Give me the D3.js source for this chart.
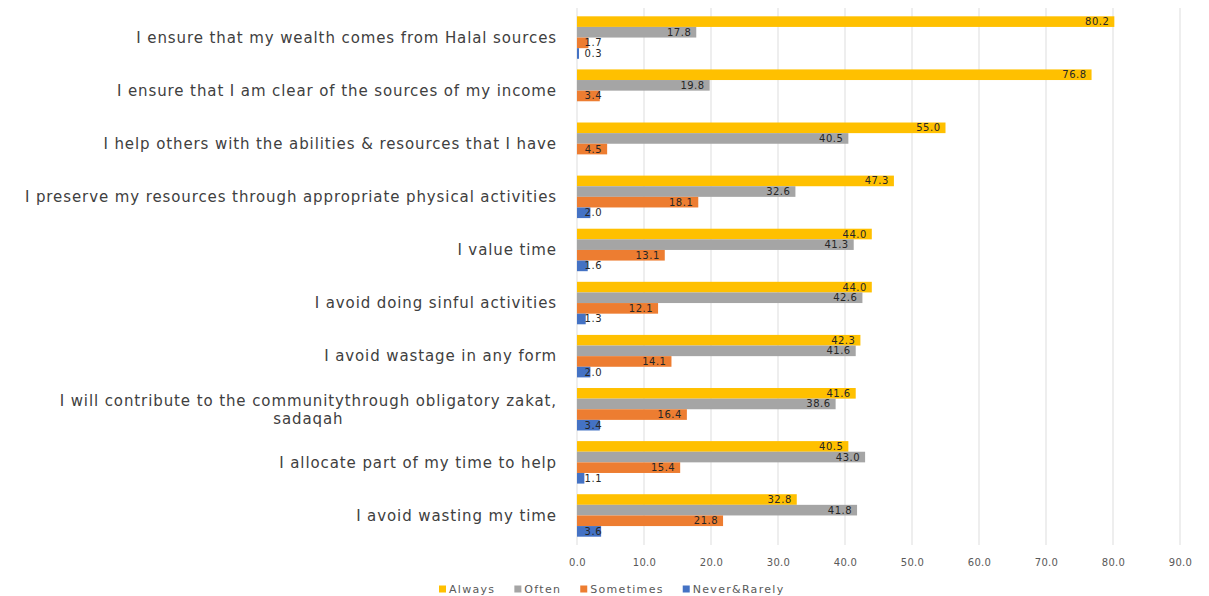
<!DOCTYPE html>
<html>
<head>
<meta charset="utf-8">
<script src="https://cdn.jsdelivr.net/npm/d3@7"></script>
<style>
  html, body { margin: 0; padding: 0; background: #ffffff; }
  svg { display: block; }
</style>
</head>
<body>
<svg id="chart" width="1209" height="596"></svg>
<script>
// Survey statements (top to bottom)
const categories = [
  "I ensure that my wealth comes from Halal sources",
  "I ensure that I am clear of the sources of my income",
  "I help others with the abilities & resources that I have",
  "I preserve my resources through appropriate physical activities",
  "I value time",
  "I avoid doing sinful activities",
  "I avoid wastage in any form",
  "I will contribute to the communitythrough obligatory zakat,|sadaqah",
  "I allocate part of my time to help",
  "I avoid wasting my time"
];

const seriesNames = ["Always", "Often", "Sometimes", "Never&Rarely"];

// Percentages per statement
const always    = [80.2, 76.8, 55.0, 47.3, 44.0, 44.0, 42.3, 41.6, 40.5, 32.8];
const often     = [17.8, 19.8, 40.5, 32.6, 41.3, 42.6, 41.6, 38.6, 43.0, 41.8];
const sometimes = [1.7, 3.4, 4.5, 18.1, 13.1, 12.1, 14.1, 16.4, 15.4, 21.8];
const never     = [0.3, 0.0, 0.0, 2.0, 1.6, 1.3, 2.0, 3.4, 1.1, 3.6];

const xTicks = [0, 10, 20, 30, 40, 50, 60, 70, 80, 90];

const seriesValues = [always, often, sometimes, never];
const colors = ["#FFC000", "#A5A5A5", "#ED7D31", "#4472C4"];

const svg = d3.select("#chart");
const fontFamily = "'DejaVu Sans', sans-serif";

const x = d3.scaleLinear().domain([0, 90]).range([577, 1180]);
const y = d3.scaleBand().domain(d3.range(categories.length)).range([11, 542])
  .paddingInner(0.2).paddingOuter(0.1);
const ySub = d3.scaleBand().domain(d3.range(seriesNames.length)).range([0, y.bandwidth()]);

// vertical gridlines
svg.append("g")
  .selectAll("line")
  .data(xTicks)
  .join("line")
  .attr("x1", d => x(d)).attr("x2", d => x(d))
  .attr("y1", 8).attr("y2", 545)
  .attr("stroke", "#DDDDDD")
  .attr("stroke-width", 1);

// x axis labels
const axis = svg.append("g")
  .attr("transform", "translate(0,556)")
  .call(d3.axisBottom(x).tickValues(xTicks).tickFormat(d3.format(".1f")).tickSize(0));
axis.select(".domain").remove();
axis.selectAll("text")
  .attr("font-family", fontFamily)
  .attr("font-size", 10)
  .attr("letter-spacing", 0.3)
  .attr("fill", "#595959");

// bars
const rows = categories.map((c, i) => ({
  i,
  vals: seriesValues.map((arr, s) => ({ s, v: arr[i] }))
}));

const groups = svg.append("g")
  .selectAll("g")
  .data(rows)
  .join("g")
  .attr("transform", d => `translate(0,${y(d.i)})`);

groups.selectAll("rect")
  .data(d => d.vals)
  .join("rect")
  .attr("x", x(0))
  .attr("y", d => ySub(d.s))
  .attr("width", d => x(d.v) - x(0))
  .attr("height", ySub.bandwidth())
  .attr("fill", d => colors[d.s]);

// value labels at the inner end of each bar
groups.selectAll("text")
  .data(d => d.vals.filter(e => e.v > 0))
  .join("text")
  .attr("x", d => Math.max(x(d.v) - 5, x(0) + 25))
  .attr("y", d => ySub(d.s) + ySub.bandwidth() / 2)
  .attr("dy", "0.35em")
  .attr("text-anchor", "end")
  .attr("font-family", fontFamily)
  .attr("font-size", 10)
  .attr("letter-spacing", 0.5)
  .attr("fill", "#262626")
  .text(d => d3.format(".1f")(d.v));

// category labels
const labelRight = 557;
const catG = svg.append("g");
categories.forEach((c, i) => {
  const lines = c.split("|");
  const cy = y(i) + y.bandwidth() / 2;
  const t = catG.append("text")
    .attr("font-family", fontFamily)
    .attr("font-size", 15)
    .attr("letter-spacing", 0.9)
    .attr("fill", "#404040");
  if (lines.length === 1) {
    t.attr("x", labelRight).attr("y", cy).attr("dy", "0.35em")
      .attr("text-anchor", "end").text(c);
  } else {
    t.attr("text-anchor", "middle");
    const spans = lines.map((ln, k) => t.append("tspan")
      .attr("y", cy + (k - (lines.length - 1) / 2) * 18)
      .attr("dy", "0.35em")
      .text(ln));
    const w = d3.max(spans, s => s.node().getComputedTextLength());
    spans.forEach(s => s.attr("x", labelRight - w / 2));
  }
});

// legend
const legend = svg.append("g").attr("transform", "translate(0,589)");
let lx = 439;
seriesNames.forEach((name, s) => {
  const g = legend.append("g").attr("transform", `translate(${lx},0)`);
  g.append("rect").attr("x", 0).attr("y", -3.5).attr("width", 7).attr("height", 7)
    .attr("fill", colors[s]);
  const t = g.append("text").attr("x", 10).attr("y", 0).attr("dy", "0.35em")
    .attr("font-family", fontFamily).attr("font-size", 11).attr("letter-spacing", 1.3)
    .attr("fill", "#595959")
    .text(name);
  lx += 10 + t.node().getComputedTextLength() + 19;
});
</script>
</body>
</html>
